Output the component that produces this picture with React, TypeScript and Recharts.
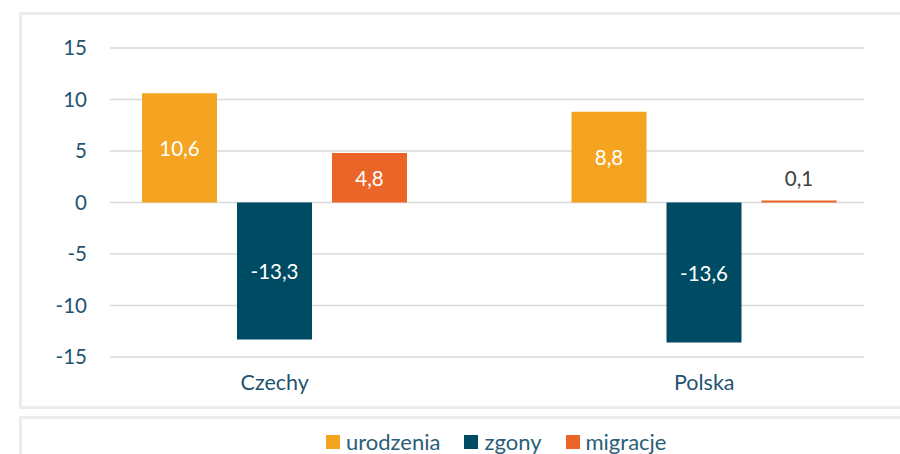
import { Bar, BarChart, CartesianGrid, LabelList, Legend, XAxis, YAxis } from "recharts"

// values
const countries = ["Czechy", "Polska"]
const urodzenia = [10.6, 8.8]
const zgony = [-13.3, -13.6]
const migracje = [4.8, 0.1]
const yTicks = [-15, -10, -5, 0, 5, 10, 15]

const series = [
  { key: "urodzenia", color: "#F5A422" },
  { key: "zgony", color: "#004B64" },
  { key: "migracje", color: "#EB6528" },
]

const data = countries.map((name, i) => ({
  name,
  urodzenia: urodzenia[i],
  zgony: zgony[i],
  migracje: migracje[i],
}))

const FONT = "Lato, 'Open Sans', sans-serif"
const TEXT = "#1F5470"

const fmt = (v: number) => v.toFixed(1).replace(".", ",")

function ValueLabel(props: any) {
  const vb = props.viewBox && props.viewBox.width !== undefined ? props.viewBox : props
  const { x, y, width, height } = vb
  const top = Math.min(y, y + height)
  const h = Math.abs(height)
  const small = h < 30
  const cy = small ? top - 23 : top + h / 2
  return (
    <text
      x={x + width / 2}
      y={cy}
      textAnchor="middle"
      dominantBaseline="central"
      fill={small ? "#404040" : "#ffffff"}
      fontSize={20.5}
      fontFamily={FONT}
    >
      {fmt(Number(props.value))}
    </text>
  )
}

function LegendBox() {
  return (
    <div style={{ display: "flex", alignItems: "center", fontFamily: FONT, fontSize: 22, color: "#2A5E78", lineHeight: "22px" }}>
      {series.map((s, i) => (
        <div key={s.key} style={{ display: "flex", alignItems: "center", marginLeft: i === 0 ? 0 : 24 }}>
          <span style={{ width: 14, height: 14, background: s.color, display: "inline-block", marginRight: 6 }} />
          <span>{s.key}</span>
        </div>
      ))}
    </div>
  )
}

export default function App() {
  return (
    <div style={{ position: "absolute", left: 0, top: 0, width: 900, height: 454, overflow: "hidden", background: "#fff" }}>
      <div style={{ position: "absolute", left: 19, top: 12, width: 1000, height: 397, boxSizing: "border-box", border: "3px solid #ececec" }} />
      <div style={{ position: "absolute", left: 19, top: 416, width: 1000, height: 100, boxSizing: "border-box", border: "3px solid #ececec" }} />
      <div style={{ position: "absolute", left: 0, top: 0 }}>
        <BarChart
          width={900}
          height={454}
          data={data}
          margin={{ top: 48, right: 36, left: 0, bottom: 57 }}
          barSize={75}
          barGap={20}
          style={{ fontFamily: FONT }}
        >
          <CartesianGrid vertical={false} stroke="#d9d9d9" strokeWidth={1.5} />
          <XAxis
            dataKey="name"
            axisLine={false}
            tickLine={false}
            height={40}
            tickMargin={12}
            padding={{ left: -50, right: -55 }}
            tick={{ fill: TEXT, fontSize: 21.5, fontFamily: FONT }}
          />
          <YAxis
            width={110}
            domain={[-15, 15]}
            ticks={yTicks}
            axisLine={false}
            tickLine={false}
            tickMargin={17}
            tick={{ fill: TEXT, fontSize: 20.5, fontFamily: FONT }}
          />
          <Legend verticalAlign="middle" align="center" layout="horizontal" wrapperStyle={{ left: 326, top: 431, width: "auto" }} content={() => <LegendBox />} />
          {series.map((s) => (
            <Bar key={s.key} dataKey={s.key} fill={s.color} minPointSize={2} isAnimationActive={false}>
              <LabelList dataKey={s.key} content={ValueLabel} />
            </Bar>
          ))}
        </BarChart>
      </div>
    </div>
  )
}
